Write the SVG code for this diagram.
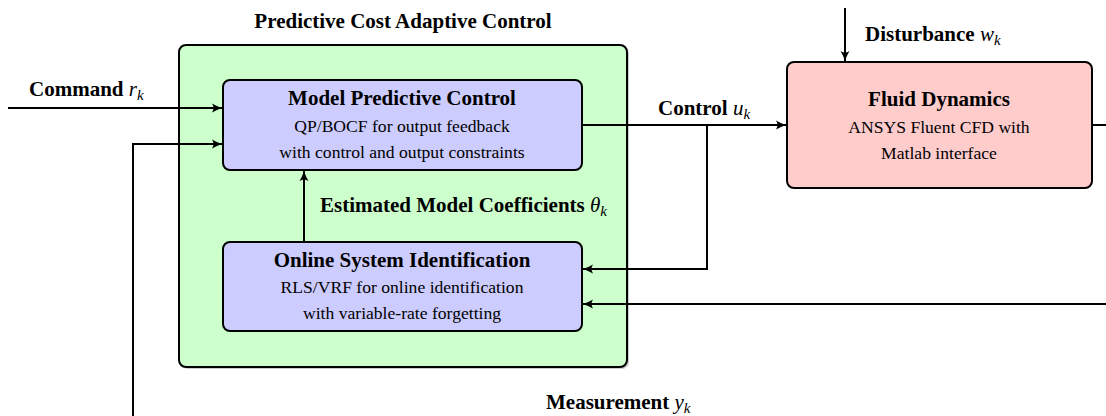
<svg xmlns="http://www.w3.org/2000/svg" width="1106" height="416" viewBox="0 0 1106 416">
<defs>
<marker id="arr" viewBox="0 0 12 12" refX="11" refY="6" markerWidth="12" markerHeight="12" markerUnits="userSpaceOnUse" orient="auto">
<path d="M1,1.5 Q6,4.5 11,6 Q6,7.5 1,10.5 Q4,6 1,1.5 Z" fill="#000"/>
</marker>
</defs>
<style>
text{font-family:"Liberation Serif","Times New Roman",serif;fill:#000}
.b{font-weight:bold;font-size:21px}
.bl{font-weight:bold;font-size:21px}
.r{font-size:17.6px}
.m{font-style:italic;font-weight:normal}
.s{font-style:italic;font-weight:normal;font-size:15px}
.box{stroke:#000;stroke-width:2}
.w{fill:none;stroke:#000;stroke-width:2}
</style>
<g id="pcac">
<rect x="181" y="47" width="448" height="322" rx="7" fill="#999" opacity="0.5"/>
<rect x="179" y="45" width="448" height="322" rx="7" fill="#ccffcc" class="box"/>
<text class="bl" x="403" y="28" text-anchor="middle">Predictive Cost Adaptive Control</text>
</g>
<g id="mpc">
<rect x="223" y="80" width="359" height="90" rx="7" fill="#ccccff" class="box"/>
<text class="b" x="402" y="105" text-anchor="middle">Model Predictive Control</text>
<text class="r" x="402" y="132" text-anchor="middle">QP/BOCF for output feedback</text>
<text class="r" x="402" y="158" text-anchor="middle">with control and output constraints</text>
</g>
<g id="osi">
<rect x="223" y="242" width="359" height="89" rx="7" fill="#ccccff" class="box"/>
<text class="b" x="402" y="267" text-anchor="middle">Online System Identification</text>
<text class="r" x="402" y="293" text-anchor="middle">RLS/VRF for online identification</text>
<text class="r" x="402" y="319" text-anchor="middle">with variable-rate forgetting</text>
</g>
<g id="fluid">
<rect x="787" y="62" width="305" height="126" rx="7" fill="#ffcccc" class="box"/>
<text class="b" x="939" y="106" text-anchor="middle">Fluid Dynamics</text>
<text class="r" x="939" y="133" text-anchor="middle">ANSYS Fluent CFD with</text>
<text class="r" x="939" y="159" text-anchor="middle">Matlab interface</text>
</g>
<g id="connectors">
<line class="w" x1="8" y1="108" x2="222" y2="108" marker-end="url(#arr)"/>
<polyline class="w" points="133,416 133,144 222,144" marker-end="url(#arr)"/>
<line class="w" x1="304" y1="242" x2="304" y2="171" marker-end="url(#arr)"/>
<line class="w" x1="582" y1="125" x2="786" y2="125" marker-end="url(#arr)"/>
<polyline class="w" points="707,125 707,269 583,269" marker-end="url(#arr)"/>
<line class="w" x1="1106" y1="304" x2="583" y2="304" marker-end="url(#arr)"/>
<line class="w" x1="1092" y1="125" x2="1106" y2="125"/>
<line class="w" x1="845" y1="8" x2="845" y2="61" marker-end="url(#arr)"/>
</g>
<g id="labels">
<text class="bl" x="29" y="96">Command <tspan class="m">r</tspan><tspan class="s" dy="4">k</tspan></text>
<text class="bl" x="658" y="115">Control <tspan class="m">u</tspan><tspan class="s" dy="4">k</tspan></text>
<text class="bl" x="320" y="212">Estimated Model Coefficients <tspan class="m">θ</tspan><tspan class="s" dy="4">k</tspan></text>
<text class="bl" x="865" y="41">Disturbance <tspan class="m">w</tspan><tspan class="s" dy="4">k</tspan></text>
<text class="bl" x="546" y="409">Measurement <tspan class="m">y</tspan><tspan class="s" dy="4">k</tspan></text>
</g>
</svg>
